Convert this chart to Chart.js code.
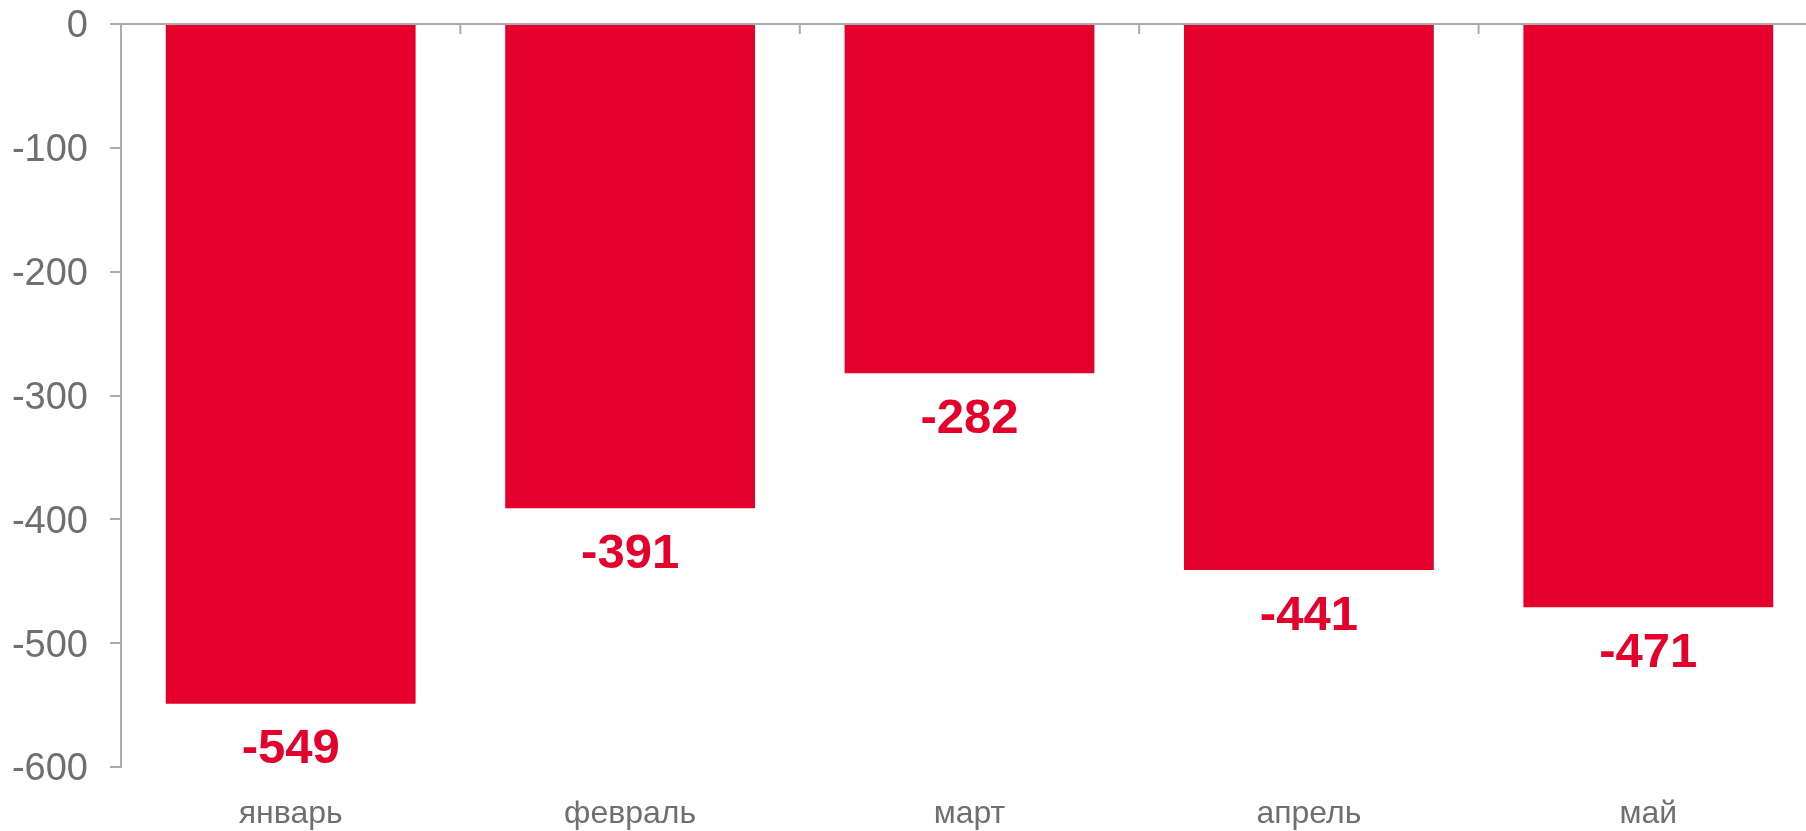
<!DOCTYPE html>
<html>
<head>
<meta charset="utf-8">
<script src="https://cdn.jsdelivr.net/npm/chart.js@4"></script>
<style>
  html, body { margin: 0; padding: 0; background: #fff; overflow: hidden; }
  /* plot runs a little past the right edge, like the original */
  #wrap { width: 1818px; height: 831px; }
</style>
</head>
<body>
<div id="wrap"><canvas id="Balance"></canvas></div>
<script>
// months and values
var MonthLabels = ['январь', 'февраль', 'март', 'апрель', 'май'];
var BalanceValues = [-549, -391, -282, -441, -471];
var AxisMin = -600;
var AxisMax = 0;
var AxisStep = 100;

const RED = '#e4002b';
const GREY_TEXT = '#6f6f6f';
const GREY_LINE = '#ababab';
const FONT = '"Liberation Sans", Arial, sans-serif';

// value labels under bars + small ticks at category borders on the zero line
const barExtras = {
    id: 'barExtras',
    afterDatasetsDraw(chart) {
        const c = chart.ctx;
        const x = chart.scales.x;
        const y = chart.scales.y;
        const y0 = y.getPixelForValue(0);

        c.save();
        c.strokeStyle = GREY_LINE;
        c.lineWidth = 2;
        for (var i = 1; i < MonthLabels.length; i++) {
            var px = (x.getPixelForValue(i - 1) + x.getPixelForValue(i)) / 2;
            c.beginPath();
            c.moveTo(px, y0);
            c.lineTo(px, y0 + 10);
            c.stroke();
        }

        c.fillStyle = RED;
        c.font = 'bold 49px ' + FONT;
        c.textAlign = 'center';
        c.textBaseline = 'middle';
        const meta = chart.getDatasetMeta(0);
        meta.data.forEach((bar, i) => {
            c.fillText(String(BalanceValues[i]), bar.x, bar.y + 46);
        });
        c.restore();
    }
};

const ctx = document.getElementById('Balance').getContext('2d');
const BalanceChart = new Chart(ctx, {
    type: 'bar',
    data: {
        labels: MonthLabels,
        datasets: [{
            data: BalanceValues,
            backgroundColor: RED,
            borderWidth: 0,
            categoryPercentage: 1.0,
            barPercentage: 0.736
        }]
    },
    options: {
        responsive: true,
        maintainAspectRatio: false,
        animation: false,
        layout: { padding: { left: 0, top: 24, right: 0, bottom: 0 } },
        plugins: {
            legend: { display: false },
            tooltip: { enabled: false }
        },
        scales: {
            x: {
                position: 'bottom',
                afterFit: (s) => {
                    s.height = 64;
                },
                grid: { display: false, drawTicks: false },
                border: { display: false },
                ticks: {
                    color: GREY_TEXT,
                    padding: 28,
                    font: { family: FONT, size: 32 }
                }
            },
            y: {
                min: AxisMin,
                max: AxisMax,
                afterFit: (s) => {
                    s.width = 121;
                    s.paddingTop = 0;
                    s.paddingBottom = 0;
                },
                grid: {
                    color: (c) => (c.tick && c.tick.value === 0) ? GREY_LINE : 'rgba(0,0,0,0)',
                    tickColor: GREY_LINE,
                    tickLength: 11,
                    lineWidth: 2
                },
                border: { display: true, color: GREY_LINE, width: 2 },
                ticks: {
                    stepSize: AxisStep,
                    color: GREY_TEXT,
                    padding: 22,
                    labelOffset: 3,
                    font: { family: FONT, size: 38 }
                }
            }
        }
    },
    plugins: [barExtras]
});
</script>
</body>
</html>
